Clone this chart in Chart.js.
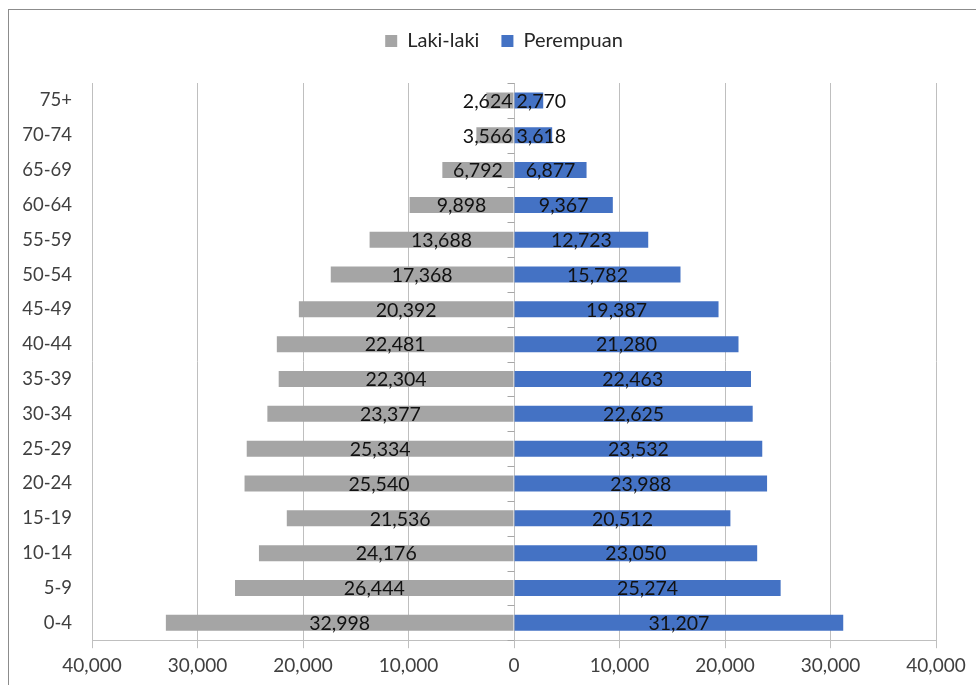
<!DOCTYPE html>
<html>
<head>
<meta charset="utf-8">
<script src="https://cdn.jsdelivr.net/npm/chart.js@4.4.1/dist/chart.umd.min.js"></script>
<style>
  html, body { margin: 0; padding: 0; background: #fff; }
  #wrap { position: relative; width: 976px; height: 685px; }
</style>
</head>
<body>
<div id="wrap"><canvas id="pyramid" width="976" height="685"></canvas></div>
<script>
const ageGroups = ['75+', '70-74', '65-69', '60-64', '55-59', '50-54', '45-49', '40-44',
    '35-39', '30-34', '25-29', '20-24', '15-19', '10-14', '5-9', '0-4'];
const lakiLaki = [2624, 3566, 6792, 9898, 13688, 17368, 20392, 22481,
    22304, 23377, 25334, 25540, 21536, 24176, 26444, 32998];
const perempuan = [2770, 3618, 6877, 9367, 12723, 15782, 19387, 21280,
    22463, 22625, 23532, 23988, 20512, 23050, 25274, 31207];
const xTicks = [-40000, -30000, -20000, -10000, 0, 10000, 20000, 30000, 40000];

const FONT = 'Lato, "Open Sans", sans-serif';
const fmt = v => Math.abs(v).toLocaleString('en-US');

// outer frame like the Excel chart border
const frame = {
    id: 'frame',
    beforeDraw(chart) {
        const ctx = chart.ctx;
        ctx.save();
        ctx.strokeStyle = '#8c8c8c';
        ctx.lineWidth = 1;
        ctx.strokeRect(8.5, 9.5, 1000, 1000);
        ctx.restore();
    }
};

// taller legend box, and nudge it right so it sits over the plot centre
const legendBox = {
    id: 'legendBox',
    beforeInit(chart) {
        const fit = chart.legend.fit;
        chart.legend.fit = function () {
            fit.bind(chart.legend)();
            this.height = 74;
        };
    },
    beforeDraw(chart) {
        const lg = chart.legend;
        if (!lg._shifted) {
            lg.left += 36;
            lg.right += 36;
            lg._shifted = true;
        }
    },
    afterUpdate(chart) {
        chart.legend._shifted = false;
    }
};

// small tick marks on the zero line between categories
const zeroAxis = {
    id: 'zeroAxis',
    afterDatasetsDraw(chart) {
        const ctx = chart.ctx;
        const x0 = Math.round(chart.scales.x.getPixelForValue(0)) + 0.5;
        const yScale = chart.scales.y;
        const step = (yScale.bottom - yScale.top) / ageGroups.length;
        ctx.save();
        ctx.strokeStyle = '#a6a6a6';
        ctx.lineWidth = 1;
        for (let i = 0; i <= ageGroups.length; i++) {
            const y = Math.round(yScale.top + i * step) + 0.5;
            ctx.beginPath();
            ctx.moveTo(x0 - 7, y);
            ctx.lineTo(x0, y);
            ctx.stroke();
        }
        ctx.restore();
    }
};

// value labels centred on each bar
const barLabels = {
    id: 'barLabels',
    afterDatasetsDraw(chart) {
        const ctx = chart.ctx;
        ctx.save();
        ctx.font = '19.5px ' + FONT;
        ctx.fillStyle = '#111';
        ctx.textAlign = 'center';
        ctx.textBaseline = 'middle';
        chart.data.datasets.forEach((ds, di) => {
            chart.getDatasetMeta(di).data.forEach((bar, i) => {
                const text = fmt(ds.data[i]);
                const w = ctx.measureText(text).width;
                let x = (bar.x + bar.base) / 2;
                if (ds.data[i] < 0 && x + w / 2 > bar.base - 1) x = bar.base - 1 - w / 2;
                if (ds.data[i] > 0 && x - w / 2 < bar.base + 2) x = bar.base + 2 + w / 2;
                ctx.fillText(text, x, bar.y + 1);
            });
        });
        ctx.restore();
    }
};

new Chart(document.getElementById('pyramid'), {
    type: 'bar',
    data: {
        labels: ageGroups,
        datasets: [
            {
                label: 'Laki-laki',
                data: lakiLaki.map(v => -v),
                backgroundColor: '#a5a5a5',
                barPercentage: 0.46,
                categoryPercentage: 1
            },
            {
                label: 'Perempuan',
                data: perempuan,
                backgroundColor: '#4472c4',
                barPercentage: 0.46,
                categoryPercentage: 1
            }
        ]
    },
    options: {
        indexAxis: 'y',
        responsive: false,
        animation: false,
        layout: { padding: { top: 9, right: 40, bottom: 2, left: 0 } },
        plugins: {
            legend: {
                position: 'top',
                labels: {
                    boxWidth: 12,
                    boxHeight: 12,
                    padding: 22,
                    color: '#262626',
                    font: { family: FONT, size: 20 }
                }
            },
            tooltip: { enabled: false }
        },
        scales: {
            x: {
                stacked: true,
                min: -40000,
                max: 40000,
                afterBuildTicks(scale) {
                    scale.ticks = xTicks.map(v => ({ value: v }));
                },
                ticks: {
                    callback: v => fmt(v),
                    color: '#404040',
                    padding: 6,
                    maxRotation: 0,
                    font: { family: FONT, size: 19 }
                },
                grid: { color: '#bfbfbf', tickLength: 8 },
                border: { color: '#bfbfbf' }
            },
            y: {
                stacked: true,
                afterFit(scale) { scale.width = 92; },
                ticks: {
                    color: '#404040',
                    padding: 20,
                    font: { family: FONT, size: 18.5 }
                },
                grid: { display: false, drawTicks: false },
                border: { display: false }
            }
        }
    },
    plugins: [frame, legendBox, zeroAxis, barLabels]
});
</script>
</body>
</html>
